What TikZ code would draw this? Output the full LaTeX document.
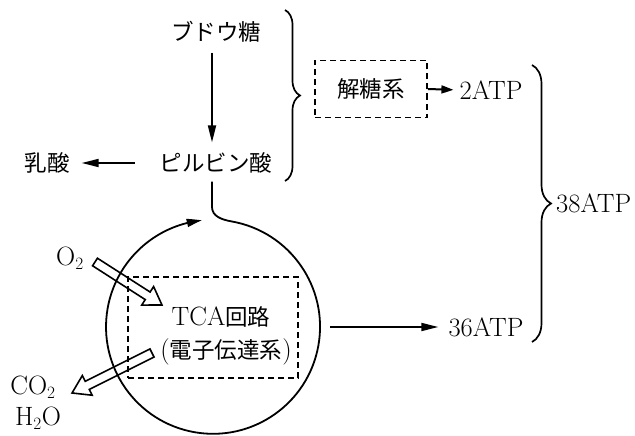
\documentclass[tikz,border=0pt]{standalone}
\usepackage{fontspec}
\newfontfamily\cjk{Noto Sans CJK JP}
\usetikzlibrary{arrows.meta,decorations.pathreplacing,bending}
\newcommand{\hollowarr}[4]{\draw[hollow, shift={(#1,#2)}, rotate=#3] (0,4.5) -- (#4-17,4.5) -- (#4-17,11) -- (#4,0) -- (#4-17,-11) -- (#4-17,-4.5) -- (0,-4.5) -- cycle;}
\tikzset{
 lat/.style={font=\fontsize{26.5}{30}\selectfont, inner sep=0pt},
 jp/.style={font=\cjk\fontsize{22.5}{26}\selectfont, inner sep=0pt},
 lineb/.style={line width=1.8pt},
 arr/.style={line width=1.8pt, -{Triangle[length=17pt,width=8pt]}},
 arrs/.style={line width=2pt, -{Triangle[length=12pt,width=8pt]}},
 dbox/.style={draw, line width=1.6pt, dash pattern=on 6pt off 4pt},
 hollow/.style={line width=1.6pt, line join=miter},
 brc/.style={decorate, decoration={brace, amplitude=#1}, line width=1.7pt}
}
\begin{document}
\begin{tikzpicture}[x=1pt,y=1pt]
\useasboundingbox (0,0) rectangle (635,-436);
% texts
\node[jp] (glu) at (216,-32) {ブドウ糖};
\node[jp] (pyr) at (216,-163) {ピルビン酸};
\node[jp] (lac) at (47,-163) {乳酸};
\node[dbox, jp, minimum width=112pt, minimum height=57pt] (gly) at (371,-89) {解糖系};
\node[lat] (atp2) at (491,-90) {2ATP};
\node[lat, anchor=west] (atp38) at (556,-203) {38ATP};
\node[lat] (atp36) at (486,-327) {36ATP};
\node[lat] (o2) at (70,-258) {O$_2$};
\node[lat] (co2) at (33,-387) {CO$_2$};
\node[lat] (h2o) at (38,-418) {H$_2$O};
% circle and TCA box
\node[circle, minimum size=214pt, inner sep=0pt] (cyc) at (213,-327) {};
\node[dbox, minimum width=170pt, minimum height=101pt] (tcabox) at (213,-327.5) {};
\node[lat] (tca) at (221,-317) {TCA{\cjk\fontsize{22.5}{26}\selectfont 回路}};
\node[lat] (etc) at (226,-352) {({\cjk\fontsize{22.5}{26}\selectfont 電子伝達系})};
% connectors
\draw[arr, shorten <=10pt, shorten >=10pt] ([xshift=-4pt]glu.south) -- ([xshift=-4pt]pyr.north);
\draw[arr, shorten <=25pt, shorten >=12pt] (pyr.west) -- (lac.east);
\draw[arrs, shorten >=6pt] (gly.east) -- (atp2.west);
\draw[arr, shorten <=10pt, shorten >=10pt] (cyc.east) -- (atp36.west);
\draw[lineb, -{Triangle[length=15pt,width=8pt,bend]}] ([xshift=-4pt,yshift=-8pt]pyr.south) -- (212,-207)
  to[out=-90,in=170] (cyc.80) arc[start angle=80, end angle=-264, radius=107pt];
% braces
\draw[brc=15pt] (285,-10) -- (285,-181);
\draw[brc=19pt] (532,-65) -- (532,-342);
% hollow arrows
\hollowarr{95}{-262}{-32.7}{79.6}
\hollowarr{152}{-353}{206.57}{89.4}
\end{tikzpicture}
\end{document}
